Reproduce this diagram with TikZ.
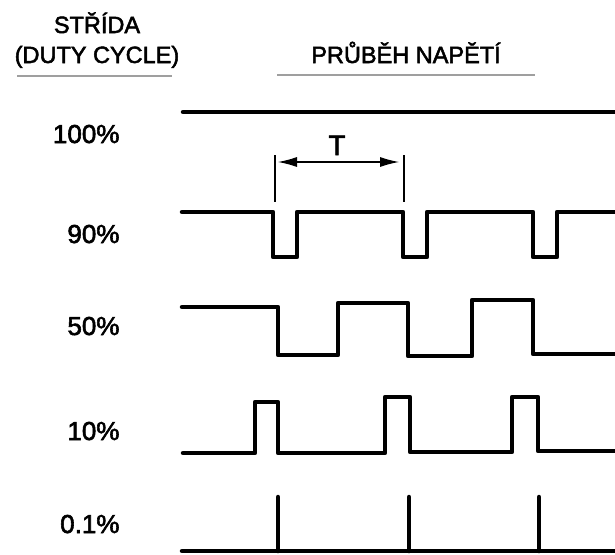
\documentclass[tikz,border=0pt]{standalone}
\usepackage{fontspec}
\setmainfont[FakeBold=2.2]{Liberation Sans}
\usetikzlibrary{arrows.meta}

\begin{document}
\begin{tikzpicture}[x=1pt,y=-1pt,
    wave/.style={line width=4.5pt, line cap=round, line join=round},
    rule/.style={draw=gray!75, line width=2.5pt},
    head/.style={font=\fontsize{23.5}{26}\selectfont, anchor=base},
    duty/.style={font=\fontsize{26}{30}\selectfont, anchor=base east}]
    \useasboundingbox (0,0) rectangle (615,554);
    \draw (97,33)node(strida)[head]{STŘÍDA}
    (97,63)node(cycle)[head]{(DUTY CYCLE)}
    (406,63)node(prubeh)[head]{PRŮBĚH NAPĚTÍ};
    \draw [rule](17,76)--(172,76);
    \draw [rule](277,75)--(535,75);
    \draw (123,143)node(d100)[duty]{100\%}
    (123,243)node(d90)[duty]{90\%}
    (123,335)node(d50)[duty]{50\%}
    (123,440)node(d10)[duty]{10\%}
    (123,533)node(d01)[duty]{0.1\%};
    % period T
    \draw (337,155)node(T)[font=\fontsize{28}{30}\selectfont, anchor=base]{T};
    \coordinate (tl) at (275,162);
    \coordinate (tr) at (404,162);
    \draw [line width=1.1pt](275,155)--(275,202) (404,155)--(404,202);
    \draw [{Latex[length=19pt,width=10pt]}-{Latex[length=19pt,width=10pt]}, line width=1.1pt, shorten <=3pt, shorten >=5pt](tl)--(tr);
    % waveforms
    \draw [wave](183,112)--(615,112);
    \draw [wave](182,212)--(273,212)--(273,257)--(297,257)--(297,212)--(403,212)--(403,257)--(427,257)
    --(427,212)--(533,212)--(533,257)--(557,257)--(557,212)--(615,212);
    \draw [wave](182,307)--(278,307)--(278,355)--(338,355)--(338,303)--(408,303)--(408,356)--(472,356)
    --(472,300)--(533,300)--(533,354)--(615,354);
    \draw [wave](183,453)--(255,453)--(255,402)--(278,402)--(278,453)--(385,453)--(385,397)--(410,397)
    --(410,452)--(512,452)--(512,397)--(538,397)--(538,451)--(615,451);
    \draw [wave](182,551)--(615,551) (278,551)--(278,497) (409,551)--(409,497) (539,551)--(539,497);
\end{tikzpicture}
\end{document}
